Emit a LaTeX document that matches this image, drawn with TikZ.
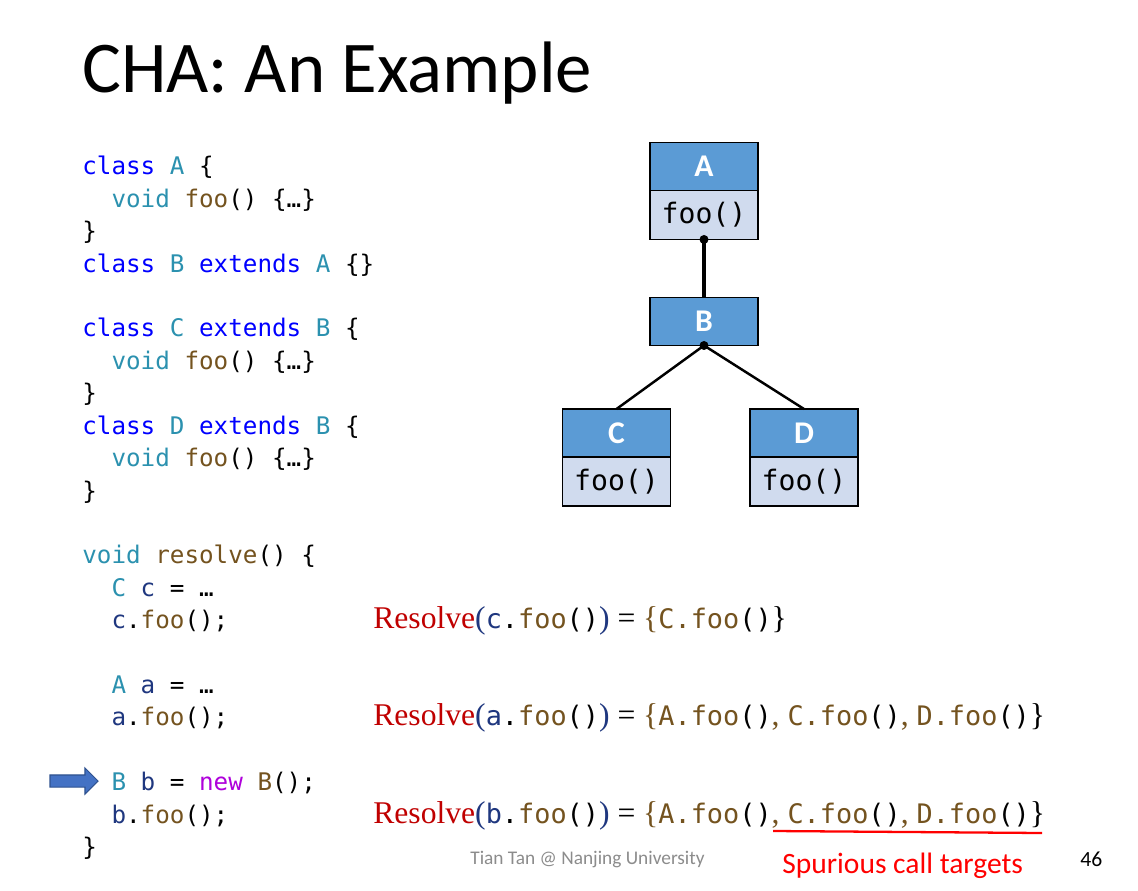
\documentclass[tikz,border=0pt]{standalone}
\usepackage{fontspec}
\setmainfont{Liberation Serif}
\newfontfamily\calib{Carlito}
\newfontfamily\codefont{DejaVu Sans Mono}[WordSpace={1,0,0}]
\usepackage{tikz}
\usetikzlibrary{positioning, shapes.arrows}

\definecolor{kwblue}{HTML}{0000FF}
\definecolor{tyteal}{HTML}{2B91AF}
\definecolor{fnbrown}{HTML}{74531F}
\definecolor{varnavy}{HTML}{1F377F}
\definecolor{newpurple}{HTML}{AF00DB}
\definecolor{resred}{HTML}{C00000}
\definecolor{headblue}{HTML}{5B9BD5}
\definecolor{bodyblue}{HTML}{D0DBEE}
\definecolor{arrowblue}{HTML}{4472C4}
\definecolor{arrowedge}{HTML}{2F528F}
\definecolor{footgray}{HTML}{8C8C8C}

% code colouring
\newcommand{\kw}[1]{\textcolor{kwblue}{#1}}
\newcommand{\ty}[1]{\textcolor{tyteal}{#1}}
\newcommand{\fn}[1]{\textcolor{fnbrown}{#1}}
\newcommand{\vn}[1]{\textcolor{varnavy}{#1}}
\newcommand{\nw}[1]{\textcolor{newpurple}{#1}}
\newcommand{\ind}{\hphantom{xx}}
% pieces of the Resolve lines
\newcommand{\resmono}{\codefont\fontsize{15.3}{18}\selectfont}
\newcommand{\rsv}[1]{\textcolor{resred}{Resolve}\textcolor{varnavy}{(}{\resmono\vn{#1}.\fn{foo}()}\textcolor{varnavy}{)} = }
\newcommand{\meth}[1]{{\resmono\fn{#1.foo}()}}

\begin{document}
\begin{tikzpicture}[
        x=0.02cm, y=-0.02cm,
        codeln/.style={anchor=base west, inner sep=0, font=\codefont\fontsize{13.8}{16}\selectfont},
        clshead/.style={draw, line width=1.1pt, fill=headblue, minimum width=2.16cm, minimum height=0.96cm, inner sep=0, outer sep=0, text=white, font=\calib\bfseries\fontsize{18}{21}\selectfont},
        clsbody/.style={draw, line width=1.1pt, fill=bodyblue, minimum width=2.16cm, minimum height=0.98cm, inner sep=0, outer sep=0, font=\codefont\fontsize{16}{19}\selectfont},
        inherit/.style={line width=1.4pt},
        res/.style={anchor=base west, inner sep=0, font=\fontsize{18}{21}\selectfont},
        note/.style={anchor=base west, inner sep=0}
    ]
    \fill[white] (0,0) rectangle (1138,891);
    \useasboundingbox (0,0) rectangle (1138,891);

    % Title
    \node[note, font=\calib\fontsize{41.5}{50}\selectfont] (title) at (82,93) {CHA: An Example};

    % Source code
    \foreach \i/\txt in {
        0/{\kw{class} \ty{A} \{},
        1/{\ind\ty{void} \fn{foo}() \{…\}},
        2/{\}},
        3/{\kw{class} \ty{B} \kw{extends} \ty{A} \{\}},
        5/{\kw{class} \ty{C} \kw{extends} \ty{B} \{},
        6/{\ind\ty{void} \fn{foo}() \{…\}},
        7/{\}},
        8/{\kw{class} \ty{D} \kw{extends} \ty{B} \{},
        9/{\ind\ty{void} \fn{foo}() \{…\}},
        10/{\}},
        12/{\ty{void} \fn{resolve}() \{},
        13/{\ind\ty{C} \vn{c} = …},
        14/{\ind\vn{c}.\fn{foo}();},
        16/{\ind\ty{A} \vn{a} = …},
        17/{\ind\vn{a}.\fn{foo}();},
        19/{\ind\ty{B} \vn{b} = \nw{new} \fn{B}();},
        20/{\ind\vn{b}.\fn{foo}();},
        21/{\}}} {
        \node[codeln] (code\i) at (82,{175+32.4*\i}) {\txt};
    }

    % Current statement
    \node[single arrow, fill=arrowblue, draw=arrowedge, line width=0.6pt,
          minimum height=0.96cm, inner xsep=0, inner ysep=0.11cm,
          single arrow head extend=0.14cm] (here) at (71,781) {};

    % Class hierarchy
    \node[clshead] (A) at (704,166.5) {A};
    \node[clsbody, below=0pt of A] (A foo) {foo()};
    \node[clshead] (B) at (704,321.5) {B};
    \node[clshead] (C) at (616.5,433) {C};
    \node[clsbody, below=0pt of C] (C foo) {foo()};
    \node[clshead] (D) at (804,433) {D};
    \node[clsbody, below=0pt of D] (D foo) {foo()};

    \draw[inherit, line width=2.4pt] (A foo.south) -- (B.north);
    \draw[inherit] (B.south) -- (C.north);
    \draw[inherit] (B.south) -- (D.north);
    \fill (A foo.south) circle[radius=0.09cm];
    \fill (B.south) circle[radius=0.09cm];

    % Resolution results
    \node[res] (res c) at (373,0 |- code14.base) {\rsv{c}\fn{\{}\meth{C}\}};
    \node[res] (res a) at (373,0 |- code17.base) {\rsv{a}\fn{\{}\meth{A}\fn{,} \meth{C}\fn{,} \meth{D}\}};
    \node[res] (res b) at (373,0 |- code20.base) {\rsv{b}\fn{\{}\meth{A}\fn{,} \meth{C}\fn{,} \meth{D}\}};

    \coordinate (spur from) at (773,831);
    \coordinate (spur to) at (1042,833);
    \draw[red, line width=1.3pt] (spur from) -- (spur to);
    \node[note, text=red, font=\calib\fontsize{16.8}{20}\selectfont] (spurious) at (782,873) {Spurious call targets};

    % Footer
    \node[note, text=footgray, font=\calib\fontsize{11}{13}\selectfont] (footer) at (470,864) {Tian Tan @ Nanjing University};
    \node[note, font=\calib\fontsize{12.3}{15}\selectfont] (page) at (1080,866) {46};
\end{tikzpicture}
\end{document}
